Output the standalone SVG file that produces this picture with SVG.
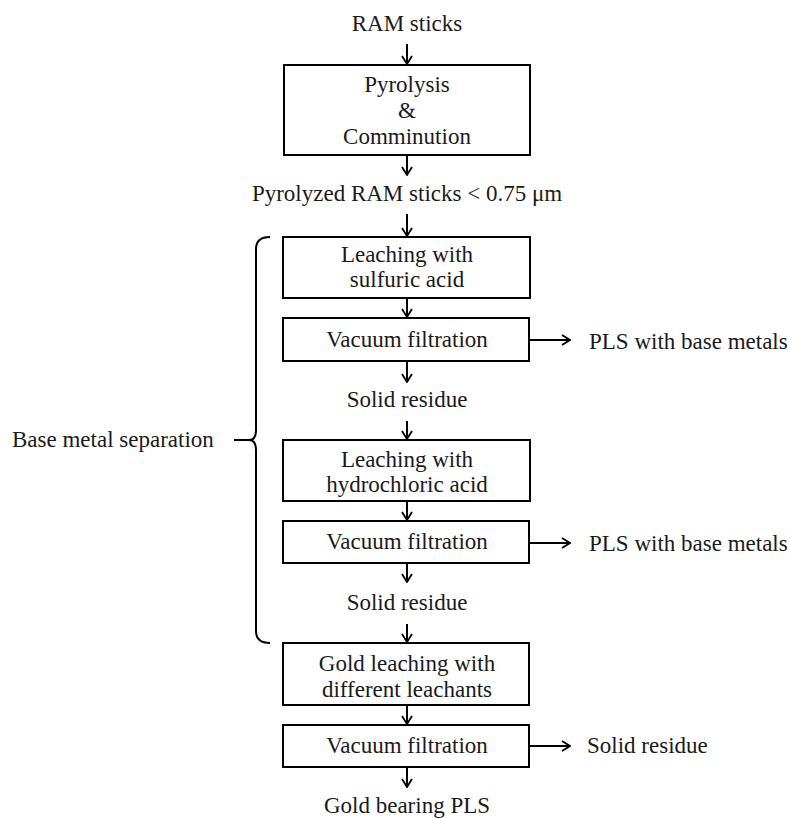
<svg xmlns="http://www.w3.org/2000/svg" width="790" height="818" viewBox="0 0 790 818">
<defs>
<marker id="arr" viewBox="0 0 12 12" refX="11" refY="6" markerWidth="12" markerHeight="12" markerUnits="userSpaceOnUse" orient="auto">
<path d="M3,1 L11,6 L3,11" fill="none" stroke="#000" stroke-width="1.8"/>
</marker>
<style>
.box{fill:#fff;stroke:#000;stroke-width:2}
.t{font-family:"Liberation Serif","Times New Roman",serif;font-size:23px;fill:#1a1a1a}
.c{text-anchor:middle}
.ln{fill:none;stroke:#000;stroke-width:2}
</style>
</defs>
<rect width="790" height="818" fill="#fff"/>
<g id="connectors">
<line class="ln" x1="407" y1="44" x2="407" y2="64" marker-end="url(#arr)"/>
<line class="ln" x1="407" y1="155" x2="407" y2="175" marker-end="url(#arr)"/>
<line class="ln" x1="407" y1="214" x2="407" y2="236" marker-end="url(#arr)"/>
<line class="ln" x1="407" y1="298" x2="407" y2="317" marker-end="url(#arr)"/>
<line class="ln" x1="529" y1="340" x2="570" y2="340" marker-end="url(#arr)"/>
<line class="ln" x1="407" y1="361" x2="407" y2="382" marker-end="url(#arr)"/>
<line class="ln" x1="407" y1="421" x2="407" y2="439" marker-end="url(#arr)"/>
<line class="ln" x1="407" y1="501" x2="407" y2="520" marker-end="url(#arr)"/>
<line class="ln" x1="529" y1="543" x2="570" y2="543" marker-end="url(#arr)"/>
<line class="ln" x1="407" y1="563" x2="407" y2="582" marker-end="url(#arr)"/>
<line class="ln" x1="407" y1="624" x2="407" y2="642" marker-end="url(#arr)"/>
<line class="ln" x1="407" y1="705" x2="407" y2="724" marker-end="url(#arr)"/>
<line class="ln" x1="529" y1="746" x2="570" y2="746" marker-end="url(#arr)"/>
<line class="ln" x1="407" y1="767" x2="407" y2="787" marker-end="url(#arr)"/>
</g>
<g id="ram"><text class="t c" x="407" y="31">RAM sticks</text></g>
<g id="pyrolysis">
<rect class="box" x="284" y="65" width="246" height="90"/>
<text class="t c" x="407" y="92">Pyrolysis</text>
<text class="t c" x="407" y="118">&amp;</text>
<text class="t c" x="407" y="144">Comminution</text>
</g>
<g id="pyrolyzed"><text class="t c" x="407" y="201">Pyrolyzed RAM sticks &lt; 0.75 μm</text></g>
<g id="leach1">
<rect class="box" x="283" y="237" width="247" height="61"/>
<text class="t c" x="407" y="262">Leaching with</text>
<text class="t c" x="407" y="287">sulfuric acid</text>
</g>
<g id="filt1">
<rect class="box" x="283" y="318" width="246" height="43"/>
<text class="t c" x="407" y="347">Vacuum filtration</text>
</g>
<g id="pls1"><text class="t" x="589" y="349">PLS with base metals</text></g>
<g id="res1"><text class="t c" x="407" y="407">Solid residue</text></g>
<g id="leach2">
<rect class="box" x="283" y="440" width="247" height="61"/>
<text class="t c" x="407" y="467">Leaching with</text>
<text class="t c" x="407" y="492">hydrochloric acid</text>
</g>
<g id="filt2">
<rect class="box" x="283" y="521" width="246" height="42"/>
<text class="t c" x="407" y="549">Vacuum filtration</text>
</g>
<g id="pls2"><text class="t" x="589" y="551">PLS with base metals</text></g>
<g id="res2"><text class="t c" x="407" y="610">Solid residue</text></g>
<g id="gold">
<rect class="box" x="283" y="643" width="246" height="62"/>
<text class="t c" x="407" y="671">Gold leaching with</text>
<text class="t c" x="407" y="697">different leachants</text>
</g>
<g id="filt3">
<rect class="box" x="283" y="725" width="246" height="42"/>
<text class="t c" x="407" y="753">Vacuum filtration</text>
</g>
<g id="res3"><text class="t" x="587" y="753">Solid residue</text></g>
<g id="goldpls"><text class="t c" x="407" y="813">Gold bearing PLS</text></g>
<g id="bracket">
<path class="ln" d="M270,237 Q256,237 256,249 L256,430 Q256,440 249,440 Q256,440 256,450 L256,631 Q256,643 270,643"/>
<line class="ln" x1="234" y1="440" x2="249" y2="440"/>
<text class="t" x="12" y="447">Base metal separation</text>
</g>
</svg>
